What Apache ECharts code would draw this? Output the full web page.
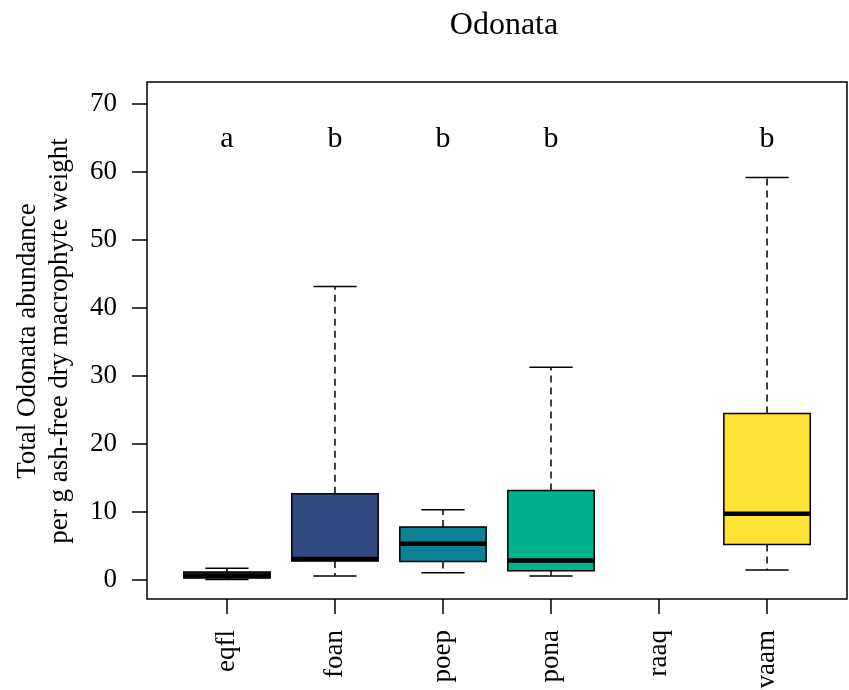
<!DOCTYPE html>
<html>
<head>
<meta charset="utf-8">
<script src="https://cdn.jsdelivr.net/npm/echarts@6/dist/echarts.min.js"></script>
<style>html,body{margin:0;padding:0;background:#fff}#main{width:849px;height:690px}</style>
</head>
<body>
<div id="main"></div>
<script>
// ---- data ----
const categories = ['eqfl', 'foan', 'poep', 'pona', 'raaq', 'vaam'];
// [lower whisker, Q1, median, Q3, upper whisker]; null = no data
const whiskerLow = [0.0, 0.5, 1.0, 0.5, null, 1.4];
const q1Values   = [0.2, 2.7, 2.65, 1.3, null, 5.15];
const medians    = [0.5, 3.0, 5.25, 2.8, null, 9.65];
const q3Values   = [1.1, 12.6, 7.7, 13.1, null, 24.4];
const whiskerHigh= [1.65, 43.1, 10.25, 31.2, null, 59.1];
const letters    = ['a', 'b', 'b', 'b', '', 'b'];
const letterY    = 64.8;
const yTicks = [0, 10, 20, 30, 40, 50, 60, 70];
const yTitleLines = ['Total Odonata abundance', 'per g ash-free dry macrophyte weight'];
const boxColors = ['#4B0055', '#314A80', '#0A8292', '#00B38C', '#7AD06A', '#FDE333'];

const FONT = '"Liberation Serif", "Times New Roman", serif';

const boxData = [];
categories.forEach((c, i) => {
  if (medians[i] === null) return;
  boxData.push([i + 1, whiskerLow[i], q1Values[i], medians[i], q3Values[i], whiskerHigh[i], i]);
});
const letterData = letters.map((l, i) => [i + 1, letterY, i]).filter(d => letters[d[2]] !== '');

function renderBox(params, api) {
  const x = api.value(0);
  const idx = api.value(6);
  const pMin = api.coord([x, api.value(1)]);
  const pQ1 = api.coord([x, api.value(2)]);
  const pMed = api.coord([x, api.value(3)]);
  const pQ3 = api.coord([x, api.value(4)]);
  const pMax = api.coord([x, api.value(5)]);
  const boxW = api.size([0.8, 0])[0];
  const capW = api.size([0.4, 0])[0];
  const cx = pMed[0];
  const lineStyle = { stroke: '#000', lineWidth: 1.5, fill: null };
  const dash = { stroke: '#000', lineWidth: 1.5, lineDash: [7, 5], fill: null };
  return {
    type: 'group',
    children: [
      { type: 'line', shape: { x1: cx, y1: pQ3[1], x2: cx, y2: pMax[1] }, style: dash },
      { type: 'line', shape: { x1: cx, y1: pQ1[1], x2: cx, y2: pMin[1] }, style: dash },
      { type: 'line', shape: { x1: cx - capW / 2, y1: pMax[1], x2: cx + capW / 2, y2: pMax[1] }, style: lineStyle },
      { type: 'line', shape: { x1: cx - capW / 2, y1: pMin[1], x2: cx + capW / 2, y2: pMin[1] }, style: lineStyle },
      { type: 'rect', shape: { x: cx - boxW / 2, y: pQ3[1], width: boxW, height: pQ1[1] - pQ3[1] },
        style: { fill: boxColors[idx], stroke: '#000', lineWidth: 1.5 } },
      { type: 'line', shape: { x1: cx - boxW / 2, y1: pMed[1], x2: cx + boxW / 2, y2: pMed[1] },
        style: { stroke: '#000', lineWidth: 4.5 } }
    ]
  };
}

function renderLetter(params, api) {
  const p = api.coord([api.value(0), api.value(1)]);
  return {
    type: 'text',
    style: { text: letters[api.value(2)], x: p[0], y: p[1], align: 'center', verticalAlign: 'middle',
      font: '30px ' + FONT, fill: '#000' }
  };
}

const chart = echarts.init(document.getElementById('main'), null, { renderer: 'canvas' });
chart.setOption({
  animation: false,
  backgroundColor: '#fff',
  title: {
    text: 'Odonata', left: 499, top: 5, textAlign: 'center',
    textStyle: { fontFamily: FONT, fontSize: 32, fontWeight: 'normal', color: '#000' }
  },
  graphic: yTitleLines.map((t, i) => ({
    type: 'text', x: 28 + i * 32, y: 341, rotation: Math.PI / 2,
    style: { text: t, font: '27px ' + FONT, fill: '#000', align: 'center', verticalAlign: 'middle' }
  })),
  grid: { left: 147, top: 82, width: 700, height: 517, show: true, borderColor: '#000', borderWidth: 1.5,
    backgroundColor: 'transparent', containLabel: false, outerBoundsMode: 'none' },
  xAxis: {
    type: 'value', min: 0.26, max: 6.74,
    axisLine: { show: false, onZero: false },
    splitLine: { show: false },
    axisTick: { show: true, customValues: [1, 2, 3, 4, 5, 6], length: 15, lineStyle: { color: '#000', width: 1.5 } },
    axisLabel: {
      customValues: [1, 2, 3, 4, 5, 6], rotate: 90, margin: 31,
      formatter: v => categories[Math.round(v) - 1] || '',
      fontFamily: FONT, fontSize: 27, color: '#000'
    }
  },
  yAxis: {
    type: 'value', min: -2.87, max: 73.16,
    axisLine: { show: false, onZero: false },
    splitLine: { show: false },
    axisTick: { show: true, customValues: yTicks, length: 15, lineStyle: { color: '#000', width: 1.5 } },
    axisLabel: { customValues: yTicks, margin: 30, fontFamily: FONT, fontSize: 27, color: '#000' }
  },
  series: [
    { type: 'custom', renderItem: renderBox, data: boxData, encode: { x: 0, y: [1, 2, 3, 4, 5] }, clip: false },
    { type: 'custom', renderItem: renderLetter, data: letterData, encode: { x: 0, y: 1 } }
  ]
});
</script>
</body>
</html>
